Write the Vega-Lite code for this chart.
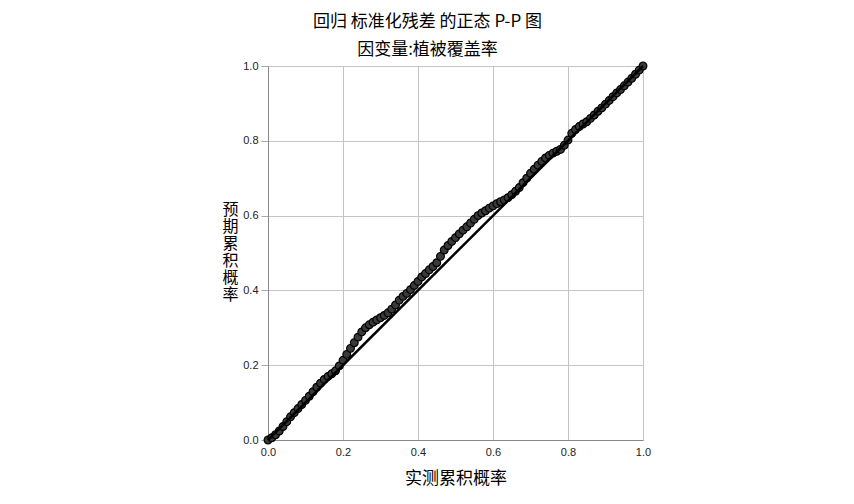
{
  "$schema": "https://vega.github.io/schema/vega-lite/v6.json",
  "width": 375,
  "height": 374,
  "autosize": {"type": "none"},
  "padding": {"left": 268, "top": 66, "right": 211, "bottom": 64},
  "background": "#ffffff",
  "title": {
    "text": "回归 标准化残差 的正态 P-P 图",
    "subtitle": "因变量:植被覆盖率",
    "font": "Noto Sans CJK SC",
    "fontSize": 17,
    "fontWeight": "normal",
    "color": "#000000",
    "subtitleFont": "Noto Sans CJK SC",
    "subtitleFontSize": 17,
    "subtitleColor": "#000000",
    "subtitlePadding": 11,
    "anchor": "middle",
    "dx": -28,
    "offset": 1
  },
  "config": {
    "view": {"stroke": null},
    "axis": {
      "grid": true,
      "gridColor": "#c4c4c4",
      "gridWidth": 1,
      "gridOpacity": 1,
      "domainColor": "#888888",
      "domainWidth": 1,
      "tickColor": "#aaaaaa",
      "labelFont": "Liberation Sans",
      "labelFontSize": 11,
      "labelColor": "#222222",
      "titleFont": "Noto Sans CJK SC",
      "titleFontSize": 17,
      "titleFontWeight": "normal",
      "titleColor": "#000000"
    }
  },
  "layer": [
    {
      "data": {
        "values": [
          {"observed": 0.000, "expected": 0.000},
          {"observed": 0.010, "expected": 0.006},
          {"observed": 0.020, "expected": 0.014},
          {"observed": 0.030, "expected": 0.024},
          {"observed": 0.040, "expected": 0.036},
          {"observed": 0.050, "expected": 0.049},
          {"observed": 0.060, "expected": 0.062},
          {"observed": 0.070, "expected": 0.073},
          {"observed": 0.080, "expected": 0.084},
          {"observed": 0.090, "expected": 0.095},
          {"observed": 0.100, "expected": 0.106},
          {"observed": 0.110, "expected": 0.117},
          {"observed": 0.120, "expected": 0.129},
          {"observed": 0.130, "expected": 0.141},
          {"observed": 0.140, "expected": 0.152},
          {"observed": 0.150, "expected": 0.162},
          {"observed": 0.160, "expected": 0.170},
          {"observed": 0.170, "expected": 0.177},
          {"observed": 0.180, "expected": 0.185},
          {"observed": 0.190, "expected": 0.198},
          {"observed": 0.200, "expected": 0.213},
          {"observed": 0.210, "expected": 0.229},
          {"observed": 0.220, "expected": 0.245},
          {"observed": 0.230, "expected": 0.260},
          {"observed": 0.240, "expected": 0.275},
          {"observed": 0.250, "expected": 0.289},
          {"observed": 0.260, "expected": 0.300},
          {"observed": 0.270, "expected": 0.308},
          {"observed": 0.280, "expected": 0.315},
          {"observed": 0.290, "expected": 0.321},
          {"observed": 0.300, "expected": 0.327},
          {"observed": 0.310, "expected": 0.333},
          {"observed": 0.320, "expected": 0.340},
          {"observed": 0.330, "expected": 0.350},
          {"observed": 0.340, "expected": 0.361},
          {"observed": 0.350, "expected": 0.374},
          {"observed": 0.360, "expected": 0.384},
          {"observed": 0.370, "expected": 0.392},
          {"observed": 0.380, "expected": 0.402},
          {"observed": 0.390, "expected": 0.413},
          {"observed": 0.400, "expected": 0.424},
          {"observed": 0.410, "expected": 0.436},
          {"observed": 0.420, "expected": 0.445},
          {"observed": 0.430, "expected": 0.455},
          {"observed": 0.440, "expected": 0.464},
          {"observed": 0.450, "expected": 0.474},
          {"observed": 0.460, "expected": 0.491},
          {"observed": 0.470, "expected": 0.508},
          {"observed": 0.480, "expected": 0.520},
          {"observed": 0.490, "expected": 0.531},
          {"observed": 0.500, "expected": 0.541},
          {"observed": 0.510, "expected": 0.551},
          {"observed": 0.520, "expected": 0.561},
          {"observed": 0.530, "expected": 0.570},
          {"observed": 0.540, "expected": 0.580},
          {"observed": 0.550, "expected": 0.590},
          {"observed": 0.560, "expected": 0.600},
          {"observed": 0.570, "expected": 0.607},
          {"observed": 0.580, "expected": 0.613},
          {"observed": 0.590, "expected": 0.620},
          {"observed": 0.600, "expected": 0.626},
          {"observed": 0.610, "expected": 0.632},
          {"observed": 0.620, "expected": 0.637},
          {"observed": 0.630, "expected": 0.642},
          {"observed": 0.640, "expected": 0.648},
          {"observed": 0.650, "expected": 0.656},
          {"observed": 0.660, "expected": 0.665},
          {"observed": 0.670, "expected": 0.675},
          {"observed": 0.680, "expected": 0.688},
          {"observed": 0.690, "expected": 0.700},
          {"observed": 0.700, "expected": 0.713},
          {"observed": 0.710, "expected": 0.724},
          {"observed": 0.720, "expected": 0.735},
          {"observed": 0.730, "expected": 0.745},
          {"observed": 0.740, "expected": 0.754},
          {"observed": 0.750, "expected": 0.761},
          {"observed": 0.760, "expected": 0.767},
          {"observed": 0.770, "expected": 0.772},
          {"observed": 0.780, "expected": 0.777},
          {"observed": 0.790, "expected": 0.788},
          {"observed": 0.800, "expected": 0.802},
          {"observed": 0.810, "expected": 0.820},
          {"observed": 0.820, "expected": 0.830},
          {"observed": 0.830, "expected": 0.838},
          {"observed": 0.840, "expected": 0.845},
          {"observed": 0.850, "expected": 0.851},
          {"observed": 0.860, "expected": 0.860},
          {"observed": 0.870, "expected": 0.869},
          {"observed": 0.880, "expected": 0.879},
          {"observed": 0.890, "expected": 0.888},
          {"observed": 0.900, "expected": 0.898},
          {"observed": 0.910, "expected": 0.908},
          {"observed": 0.920, "expected": 0.918},
          {"observed": 0.930, "expected": 0.928},
          {"observed": 0.940, "expected": 0.937},
          {"observed": 0.950, "expected": 0.947},
          {"observed": 0.960, "expected": 0.957},
          {"observed": 0.970, "expected": 0.967},
          {"observed": 0.980, "expected": 0.978},
          {"observed": 0.990, "expected": 0.989},
          {"observed": 1.000, "expected": 1.000}
        ]
      },
      "mark": {"type": "point", "filled": true, "fill": "#3a3a3a", "stroke": "#000000", "strokeWidth": 1.2, "size": 60, "opacity": 1},
      "encoding": {
        "x": {
          "field": "observed", "type": "quantitative",
          "scale": {"domain": [0, 1], "nice": false, "zero": false},
          "axis": {"title": "实测累积概率", "values": [0, 0.2, 0.4, 0.6, 0.8, 1], "format": ".1f", "tickSize": 0, "labelPadding": 6, "titlePadding": 13, "labelFlush": false}
        },
        "y": {
          "field": "expected", "type": "quantitative",
          "scale": {"domain": [0, 1], "nice": false, "zero": false},
          "axis": {
            "title": ["预", "期", "累", "积", "概", "率"],
            "titleAngle": 0,
            "titleAlign": "center",
            "titleBaseline": "middle",
            "titleX": -38,
            "titleY": 143,
            "titleFontSize": 16,
            "titleLineHeight": 17,
            "values": [0, 0.2, 0.4, 0.6, 0.8, 1],
            "format": ".1f",
            "tickSize": 7,
            "labelPadding": 3,
            "labelFlush": false
          }
        }
      }
    },
    {
      "data": {"values": [{"observed": 0, "expected": 0}, {"observed": 1, "expected": 1}]},
      "mark": {"type": "line", "color": "#000000", "strokeWidth": 2.5},
      "encoding": {
        "x": {"field": "observed", "type": "quantitative"},
        "y": {"field": "expected", "type": "quantitative"}
      }
    }
  ]
}
